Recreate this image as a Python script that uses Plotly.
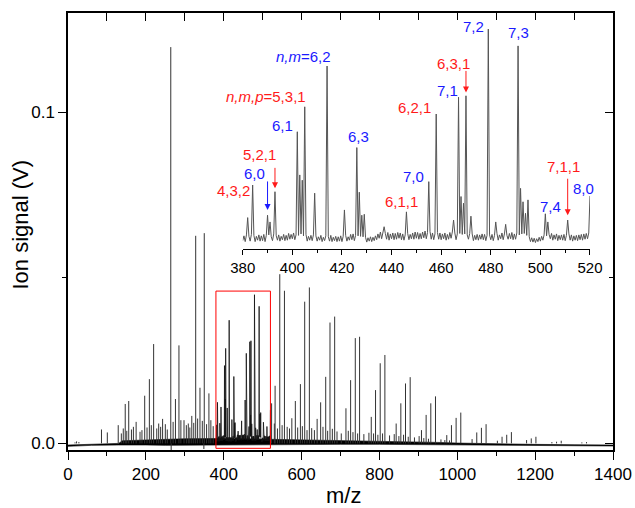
import plotly.graph_objects as go

# main spectrum: strong peaks outside the zoomed window (m/z, signal in V)
peak_mz = [86, 101, 129, 147, 156, 175, 197, 209, 220, 243, 264, 276, 285, 298, 318,
           328, 339, 350, 362, 523, 532, 544, 556, 575, 584, 597, 608, 620, 640, 649,
           662, 673, 685, 714, 726, 738, 749, 779, 790, 802, 814, 843, 855, 867, 879,
           908, 920, 932, 944, 973, 985, 997, 1009, 1038, 1050, 1062, 1074, 1103, 1115,
           1127, 1139, 1178, 1190, 1202, 1243, 1255, 1267, 1320, 1332]
peak_v = [0.0042, 0.0033, 0.0055, 0.0119, 0.0128, 0.0065, 0.0144, 0.0194, 0.0300, 0.0074,
          0.1197, 0.0134, 0.0296, 0.0070, 0.0083, 0.0627, 0.0168, 0.0635, 0.0151, 0.0121,
          0.0174, 0.0511, 0.0461, 0.0076, 0.0128, 0.0179, 0.0428, 0.0471, 0.0074, 0.0124,
          0.0201, 0.0365, 0.0383, 0.0106, 0.0191, 0.0318, 0.0322, 0.0080, 0.0161, 0.0242,
          0.0267, 0.0060, 0.0121, 0.0181, 0.0200, 0.0040, 0.0086, 0.0121, 0.0142, 0.0025,
          0.0055, 0.0077, 0.0093, 0.0013, 0.0033, 0.0047, 0.0058, 0.0008, 0.0020, 0.0026,
          0.0034, 0.0010, 0.0015, 0.0020, 0.0004, 0.0005, 0.0008, 0.0003, 0.0004]

# small lines that make the grassy baseline
minor_mz = [18, 22, 28, 137, 142, 151, 163, 168, 185, 190, 203, 214, 228, 233, 238, 250,
            255, 270, 290, 304, 309, 313, 323, 333, 345, 356, 367, 373, 530, 538, 550,
            563, 569, 590, 602, 614, 626, 633, 655, 667, 679, 691, 702, 720, 732, 744,
            760, 773, 785, 796, 808, 826, 838, 850, 862, 874, 890, 902, 914, 926, 958,
            968, 980]
minor_v = [0.0003, 0.0006, 0.0004, 0.0030, 0.0045, 0.0038, 0.0042, 0.0050, 0.0035,
           0.0040, 0.0048, 0.0055, 0.0045, 0.0060, 0.0050, 0.0058, 0.0042, 0.0065,
           0.0070, 0.0055, 0.0060, 0.0048, 0.0062, 0.0075, 0.0068, 0.0058, 0.0070,
           0.0052, 0.0060, 0.0045, 0.0055, 0.0050, 0.0045, 0.0048, 0.0052, 0.0040,
           0.0046, 0.0040, 0.0050, 0.0038, 0.0044, 0.0036, 0.0030, 0.0038, 0.0034,
           0.0030, 0.0028, 0.0032, 0.0030, 0.0026, 0.0030, 0.0024, 0.0028, 0.0022,
           0.0026, 0.0020, 0.0018, 0.0022, 0.0016, 0.0014, 0.0012, 0.0010, 0.0009]

# negative dips under the strongest lines
dip_mz = [265, 349]
dip_v = [-0.0021, -0.0017]

# noise band of the main trace (upper / lower envelope)
band_mz = [0, 60, 130, 140, 200, 250, 300, 400, 500, 600, 700, 800, 900, 950, 1000,
           1100, 1200, 1300, 1400]
band_hi = [-0.0005, -0.0002, 0.0000, 0.0008, 0.0010, 0.0012, 0.0014, 0.0015, 0.0013,
           0.0011, 0.0009, 0.0008, 0.0005, 0.0003, 0.0001, -0.0002, -0.0003, -0.0004,
           -0.0005]
band_lo = [-0.0009, -0.0006, -0.0005, -0.0004, -0.0005, -0.0006, -0.0006, -0.0006,
           -0.0005, -0.0004, -0.0003, -0.0003, -0.0003, -0.0003, -0.0004, -0.0005,
           -0.0006, -0.0007, -0.0008]

# zoomed window 380-520, sampled every 0.5 amu; baseline noise in units of 1e-4 V
zoom_lo, zoom_hi, zoom_step = 380, 520, 0.5
zoom_noise = [
    8, 18, 6, 20, 9, 17, 7, 21, 8, 19, 6, 17, 9, 20, 7, 18, 8, 21, 6, 19,
    9, 20, 7, 16, 8, 22, 6, 18, 9, 20, 7, 17, 10, 21, 8, 19, 9, 23, 11, 21,
    12, 24, 10, 20, 9, 19, 11, 22, 8, 18, 10, 21, 7, 17, 9, 19, 8, 20, 6, 18,
    7, 16, 9, 19, 6, 15, 8, 18, 5, 16, 7, 19, 6, 15, 8, 17, 6, 16, 7, 18,
    6, 17, 8, 19, 7, 16, 9, 21, 10, 22, 8, 19, 9, 18, 7, 17, 8, 16, 6, 15,
    5, 14, 7, 16, 6, 15, 8, 18, 10, 22, 13, 26, 12, 24, 10, 23, 11, 25, 9, 22,
    12, 24, 10, 23, 11, 25, 13, 24, 10, 22, 9, 20, 11, 23, 10, 21, 12, 24, 11, 26,
    13, 25, 11, 23, 12, 26, 14, 28, 12, 25, 13, 27, 11, 24, 10, 22, 12, 25, 11, 24,
    10, 22, 12, 24, 9, 21, 11, 25, 13, 26, 12, 24, 10, 22, 11, 23, 9, 21, 10, 22,
    9, 20, 11, 23, 10, 22, 8, 19, 10, 21, 9, 20, 11, 22, 10, 21, 8, 19, 9, 20,
    10, 21, 8, 19, 11, 23, 9, 20, 12, 24, 10, 22, 8, 19, 11, 23, 12, 25, 10, 22,
    11, 24, 9, 20, 10, 22, 12, 23, 9, 19, 7, 16, 6, 14, 5, 13, 4, 12, 6, 15,
    7, 17, 9, 20, 8, 18, 10, 21, 12, 23, 9, 20, 11, 22, 8, 19, 10, 20, 9, 21,
    8, 19, 10, 22, 9, 20, 7, 18, 9, 19, 8, 20, 10, 21, 9, 22, 11, 23, 12, 24,
    13]
zoom_peak_mz = [382, 384, 390, 391, 393, 402, 403, 404, 405, 409, 414, 421, 426, 427,
                428, 429, 437, 446, 455, 458, 465, 467, 468, 469, 470, 472, 479, 482,
                486, 491, 492, 493, 494, 495, 502, 503, 511, 520]
zoom_peak_v = [0.0056, 0.0124, 0.0061, 0.0047, 0.0110, 0.0235, 0.0145, 0.0134, 0.0287,
               0.0107, 0.0372, 0.0072, 0.0202, 0.0109, 0.0061, 0.0063, 0.0037, 0.0068,
               0.0131, 0.0272, 0.0051, 0.0307, 0.0100, 0.0086, 0.0310, 0.0059, 0.0449,
               0.0047, 0.0042, 0.0414, 0.0117, 0.0089, 0.0065, 0.0093, 0.0064, 0.0047,
               0.0051, 0.0101]

# peak assignments in the inset: text, colour, label position, arrow tip (or None)
labels = [
    ("<i>n,m</i>=6,2", "blue", 404.4, 0.0391, None),
    ("<i>n,m,p</i>=5,3,1", "red", 389.5, 0.0309, None),
    ("6,1", "blue", 396.1, 0.0249, None),
    ("5,2,1", "red", 386.7, 0.0187, (393, 0.0117, -22)),
    ("6,0", "blue", 384.7, 0.0147, (390, 0.0072, -30)),
    ("4,3,2", "red", 376.2, 0.0113, None),
    ("6,3", "blue", 426.6, 0.0226, None),
    ("7,0", "blue", 448.8, 0.0141, None),
    ("6,1,1", "red", 444.1, 0.0089, None),
    ("6,2,1", "red", 449.4, 0.0286, None),
    ("7,1", "blue", 462.5, 0.0322, None),
    ("6,3,1", "red", 464.9, 0.0378, (470, 0.0317, -23)),
    ("7,2", "blue", 473.0, 0.0454, None),
    ("7,3", "blue", 491.1, 0.0441, None),
    ("7,4", "blue", 503.9, 0.0080, None),
    ("7,1,1", "red", 509.5, 0.0162, (511, 0.0061, -38)),
    ("8,0", "blue", 517.3, 0.0117, None),
]
label_colors = {"red": "#ff1a1a", "blue": "#1a1aff"}

#%% build the traces
zoom_x = [zoom_lo + zoom_step * i for i in range(len(zoom_noise))]
zoom_y = [v * 1e-4 for v in zoom_noise]
for m, h in zip(zoom_peak_mz, zoom_peak_v):
    i = int(round((m - zoom_lo) / zoom_step))
    zoom_y[i] = max(zoom_y[i], h)

stick_x, stick_y = [], []
for m, h in zip(peak_mz + minor_mz + dip_mz, peak_v + minor_v + dip_v):
    stick_x += [m, m, None]
    stick_y += [0, h, None]

font = "Liberation Sans, Arial, sans-serif"
fig = go.Figure()

fig.add_trace(go.Scatter(x=band_mz + band_mz[::-1], y=band_hi + band_lo[::-1],
                         fill="toself", fillcolor="black", mode="lines",
                         line=dict(width=0.6, color="black"), hoverinfo="skip"))
fig.add_trace(go.Scatter(x=stick_x, y=stick_y, mode="lines",
                         line=dict(color="#333333", width=1)))
fig.add_trace(go.Scatter(x=zoom_x, y=zoom_y, mode="lines",
                         line=dict(color="#111111", width=0.8)))
# inset
fig.add_trace(go.Scatter(x=zoom_x, y=zoom_y, mode="lines", xaxis="x2", yaxis="y2",
                         line=dict(color="#555555", width=1)))
# dummy trace so the mirrored frame axes get drawn
fig.add_trace(go.Scatter(x=[0], y=[0], xaxis="x3", yaxis="y3", mode="markers",
                         marker=dict(opacity=0), hoverinfo="skip"))

main_x = [0, 1400]
main_y = [-0.002, 0.130]
axis_common = dict(showgrid=False, zeroline=False, showline=True, linecolor="black",
                   tickcolor="black", automargin=False)

fig.update_layout(
    width=635, height=508,
    margin=dict(l=68, r=22, t=13, b=58),
    paper_bgcolor="white", plot_bgcolor="white",
    showlegend=False,
    font=dict(family=font, color="black"),
    xaxis=dict(axis_common, domain=[0, 1], range=main_x, linewidth=1.5,
               ticks="outside", ticklen=8, tickwidth=1.3, dtick=200, tick0=0,
               minor=dict(ticks="outside", ticklen=4, dtick=100, tickcolor="black"),
               tickfont=dict(size=17)),
    yaxis=dict(axis_common, domain=[0, 1], range=main_y, linewidth=1.5,
               ticks="outside", ticklen=8, tickwidth=1.3,
               tickvals=[0, 0.1], ticktext=["0.0", "0.1"],
               minor=dict(ticks="outside", ticklen=4, tickvals=[0.05], tickcolor="black"),
               tickfont=dict(size=17)),
    xaxis3=dict(axis_common, overlaying="x", side="top", anchor="y3", range=main_x,
                linewidth=1.5, ticks="inside", ticklen=8, tickwidth=1.3, dtick=100,
                tick0=0, showticklabels=False),
    yaxis3=dict(axis_common, overlaying="y", side="right", anchor="x3", range=main_y,
                linewidth=1.5, ticks="inside", ticklen=8, tickwidth=1.3,
                tickvals=[0, 0.1], showticklabels=False,
                minor=dict(ticks="inside", ticklen=4, tickvals=[0.05], tickcolor="black")),
    xaxis2=dict(axis_common, domain=[0.3206, 0.9578], anchor="y2",
                range=[zoom_lo, zoom_hi], linewidth=1, ticks="outside", ticklen=5,
                dtick=20, tick0=380,
                minor=dict(ticks="outside", ticklen=3, dtick=10, tickcolor="black"),
                tickfont=dict(size=15)),
    yaxis2=dict(domain=[0.4593, 0.984], anchor="x2", range=[-0.0010, 0.0468],
                visible=False, automargin=False),
)

# red box marking the zoomed window
fig.add_shape(type="rect", xref="x", yref="y", x0=zoom_lo, x1=zoom_hi,
              y0=-0.0015, y1=0.046, line=dict(color="red", width=1))

# inset is 2.48 px per amu; labels left of the window are shifted in pixels
px_per_amu = 0.9578 * 545 / (zoom_hi - zoom_lo) - 0.3206 * 545 / (zoom_hi - zoom_lo)
for text, col, lx, ly, arrow in labels:
    shift = 0
    if lx < zoom_lo:
        shift = (lx - zoom_lo) * px_per_amu
        lx = zoom_lo
    fig.add_annotation(x=lx, y=ly, xref="x2", yref="y2", text=text, showarrow=False,
                       xshift=shift, font=dict(size=15, color=label_colors[col]),
                       xanchor="center", yanchor="middle")
    if arrow is not None:
        ax_, ay_, alen = arrow
        fig.add_annotation(x=ax_, y=ay_, xref="x2", yref="y2", text="", showarrow=True,
                           ax=0, ay=alen, arrowhead=2, arrowsize=1.2, arrowwidth=1,
                           arrowcolor=label_colors[col])

# axis titles
fig.add_annotation(x=-0.088, y=0.516, xref="paper", yref="paper", text="Ion signal (V)",
                   textangle=-90, showarrow=False, font=dict(size=22),
                   xanchor="center", yanchor="middle")
fig.add_annotation(x=0.506, y=-0.104, xref="paper", yref="paper", text="m/z",
                   showarrow=False, font=dict(size=22), xanchor="center", yanchor="middle")

# drop the default page margin / scrollbars so the 635x508 figure fills the window
fig.write_html("out.html",
               config={"displayModeBar": False, "responsive": False},
               post_script="document.body.style.margin='0';"
                           "document.body.style.overflow='hidden';")
